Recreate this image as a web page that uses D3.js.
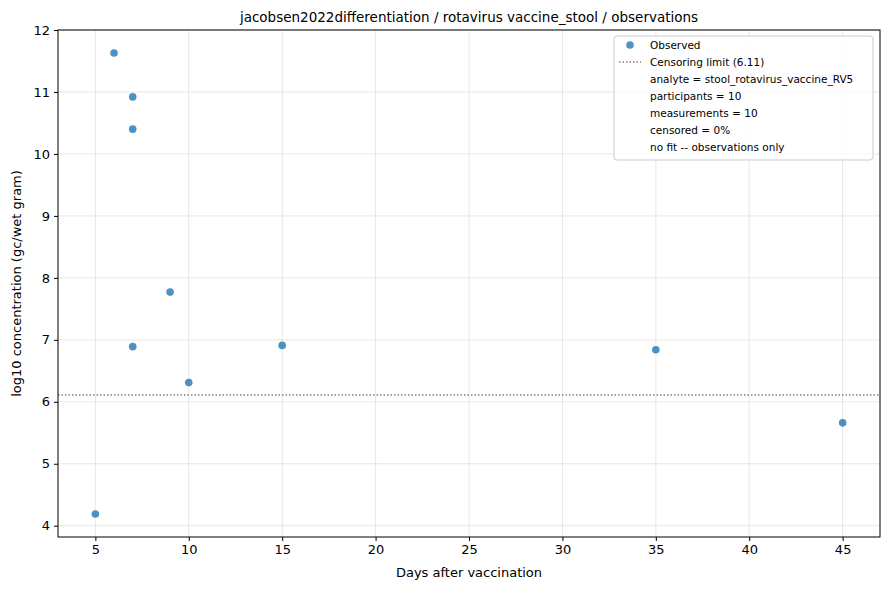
<!DOCTYPE html>
<html>
<head>
<meta charset="utf-8">
<script src="https://cdn.jsdelivr.net/npm/d3@7"></script>
<style>
  body { margin: 0; background: #fff; }
  text { font-family: "DejaVu Sans", sans-serif; }
</style>
</head>
<body>
<script>
// observations
const days = [6, 7, 7, 9, 7, 10, 15, 35, 45, 5];
const conc = [11.63, 10.92, 10.40, 7.77, 6.89, 6.31, 6.91, 6.84, 5.66, 4.19];
const censorLimit = 6.11;
const xTicks = [5, 10, 15, 20, 25, 30, 35, 40, 45];
const yTicks = [4, 5, 6, 7, 8, 9, 10, 11, 12];
const legendLines = [
  "analyte = stool_rotavirus_vaccine_RV5",
  "participants = 10",
  "measurements = 10",
  "censored = 0%",
  "no fit -- observations only"
];

const w = 890, h = 590;
const padL = 58, padR = 880, padT = 30, padB = 537;
const blue = "#1f77b4";

const svg = d3.select('body').append('svg').attr('width', w).attr('height', h);

const xScale = d3.scaleLinear().domain([3, 47]).range([padL, padR]);
const yScale = d3.scaleLinear().domain([3.818, 12.0]).range([padB, padT]);

// grid
svg.append('g').selectAll('line').data(xTicks).enter().append('line')
   .attr('x1', d => xScale(d)).attr('x2', d => xScale(d))
   .attr('y1', padT).attr('y2', padB)
   .attr('stroke', '#b0b0b0').attr('stroke-opacity', 0.3);
svg.append('g').selectAll('line').data(yTicks).enter().append('line')
   .attr('y1', d => yScale(d)).attr('y2', d => yScale(d))
   .attr('x1', padL).attr('x2', padR)
   .attr('stroke', '#b0b0b0').attr('stroke-opacity', 0.3);

// censoring line
svg.append('line')
   .attr('x1', padL).attr('x2', padR)
   .attr('y1', yScale(censorLimit)).attr('y2', yScale(censorLimit))
   .attr('stroke', 'gray').attr('stroke-width', 1.3).attr('stroke-dasharray', '1.5,2');

// points
svg.selectAll('circle.dot').data(days).enter().append('circle')
   .attr('class', 'dot')
   .attr('cx', d => xScale(d))
   .attr('cy', (d, i) => yScale(conc[i]))
   .attr('r', 3.8)
   .attr('fill', blue).attr('fill-opacity', 0.8);

// axes
const xAxis = d3.axisBottom(xScale).tickValues(xTicks).tickSize(4).tickPadding(4);
svg.append('g').attr('transform', `translate(0, ${padB})`).call(xAxis)
   .call(g => g.select('.domain').remove())
   .selectAll('text').style('font-size', '13px').attr('fill', '#000');
const yAxis = d3.axisLeft(yScale).tickValues(yTicks).tickSize(4).tickPadding(4);
svg.append('g').attr('transform', `translate(${padL}, 0)`).call(yAxis)
   .call(g => g.select('.domain').remove())
   .selectAll('text').style('font-size', '13px').attr('fill', '#000');

svg.append('rect').attr('x', padL).attr('y', padT)
   .attr('width', padR - padL).attr('height', padB - padT)
   .attr('fill', 'none').attr('stroke', '#000').attr('stroke-width', 1);

// labels
svg.append('text').attr('x', (padL + padR) / 2).attr('y', 22)
   .attr('text-anchor', 'middle').style('font-size', '13.5px')
   .text('jacobsen2022differentiation / rotavirus vaccine_stool / observations');
svg.append('text').attr('x', (padL + padR) / 2).attr('y', 577)
   .attr('text-anchor', 'middle').style('font-size', '13px')
   .text('Days after vaccination');
svg.append('text').attr('transform', `translate(21, ${(padT + padB) / 2}) rotate(-90)`)
   .attr('text-anchor', 'middle').style('font-size', '13px')
   .text('log10 concentration (gc/wet gram)');

// legend
const lg = svg.append('g').attr('transform', 'translate(614, 36)');
lg.append('rect').attr('width', 259).attr('height', 124).attr('rx', 3)
  .attr('fill', '#fff').attr('fill-opacity', 0.8).attr('stroke', '#ccc');
lg.append('circle').attr('cx', 16).attr('cy', 9).attr('r', 3.8)
  .attr('fill', blue).attr('fill-opacity', 0.8);
lg.append('text').attr('x', 36).attr('y', 13).style('font-size', '10.5px').text('Observed');
lg.append('line').attr('x1', 5).attr('x2', 27).attr('y1', 26).attr('y2', 26)
  .attr('stroke', 'gray').attr('stroke-width', 1.3).attr('stroke-dasharray', '1.5,2');
lg.append('text').attr('x', 36).attr('y', 30).style('font-size', '10.5px')
  .text(`Censoring limit (${censorLimit})`);
lg.selectAll('text.info').data(legendLines).enter().append('text')
  .attr('class', 'info').attr('x', 36).attr('y', (d, i) => 47 + i * 17)
  .style('font-size', '10.5px').text(d => d);
</script>
</body>
</html>
